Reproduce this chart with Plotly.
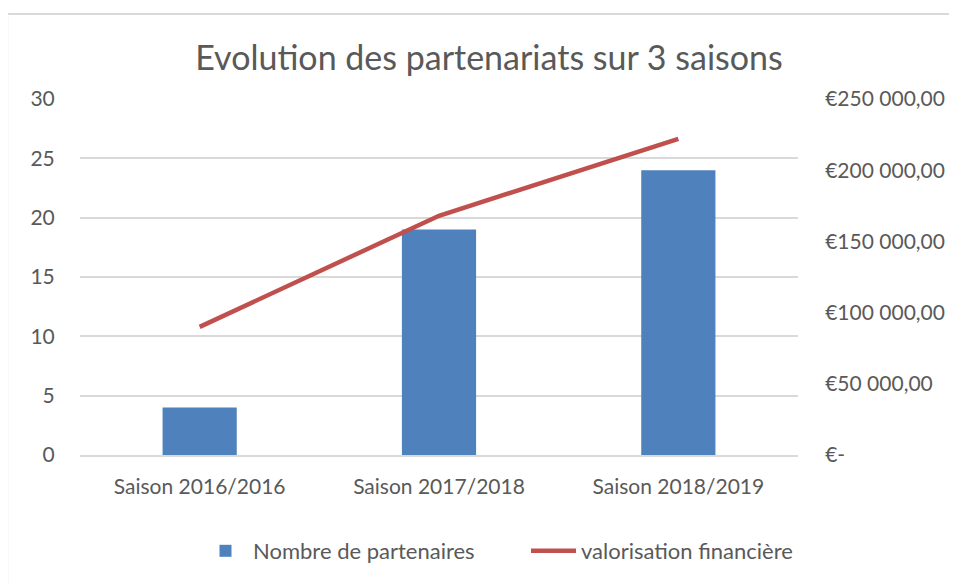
import plotly.graph_objects as go

categories = ["Saison 2016/2016", "Saison 2017/2018", "Saison 2018/2019"]
nb_partenaires = [4, 19, 24]
valorisation = [90000, 168000, 222000]
right_tickvals = [0, 50000, 100000, 150000, 200000, 250000]
right_ticktext = ["€-", "€50 000,00", "€100 000,00", "€150 000,00", "€200 000,00", "€250 000,00"]

FONT = "Lato, 'Open Sans', sans-serif"
GRAY = "#595959"
W, H = 949, 575  # page body has an 8px margin

fig = go.Figure()
fig.add_trace(go.Bar(x=categories, y=nb_partenaires, name="Nombre de partenaires",
                     marker=dict(color="#4f81bd", line=dict(width=0)), yaxis="y"))
fig.add_trace(go.Scatter(x=categories, y=valorisation, name="valorisation financière",
                         mode="lines", line=dict(color="#c0504d", width=4.5), yaxis="y2"))

fig.update_layout(
    width=W, height=H, autosize=False,
    paper_bgcolor="white", plot_bgcolor="white",
    margin=dict(l=72, r=157, t=91, b=128),
    font=dict(family=FONT, color=GRAY, size=20),
    title=dict(text="Evolution des partenariats sur 3 saisons", x=481 / W, xanchor="center",
               y=1 - 50 / H, yanchor="middle", yref="container",
               font=dict(family=FONT, size=34, color=GRAY)),
    bargap=0.69,
    showlegend=True,
    legend=dict(orientation="h", x=190 / W, xanchor="left", y=1 - 543 / H, yref="container",
                yanchor="middle", xref="container", font=dict(size=22, color=GRAY),
                traceorder="normal", entrywidth=268, entrywidthmode="pixels", itemwidth=45),
    xaxis=dict(showgrid=False, showline=True, linecolor="#d9d9d9", linewidth=2,
               ticks="outside", ticklen=12, tickcolor="rgba(0,0,0,0)",
               tickfont=dict(size=21, color=GRAY)),
    yaxis=dict(range=[0, 30], dtick=5, showgrid=True, gridcolor="#d9d9d9", gridwidth=1.5,
               zeroline=False, ticks="outside", ticklen=20, tickcolor="rgba(0,0,0,0)",
               tickfont=dict(size=21, color=GRAY)),
    yaxis2=dict(range=[0, 250000], overlaying="y", side="right", tickvals=right_tickvals,
                ticktext=right_ticktext, showgrid=False, zeroline=False,
                ticks="outside", ticklen=22, tickcolor="rgba(0,0,0,0)",
                tickfont=dict(size=21, color=GRAY)),
    shapes=[dict(type="rect", xref="paper", yref="paper",
                 x0=(7 - 80) / 720, x1=(1000 - 80) / 720,
                 y0=(455 - 620) / 356, y1=(455 - 14) / 356,
                 line=dict(color="#d9d9d9", width=2), fillcolor="rgba(0,0,0,0)", layer="below")],
)

fig.write_html("out.html")
